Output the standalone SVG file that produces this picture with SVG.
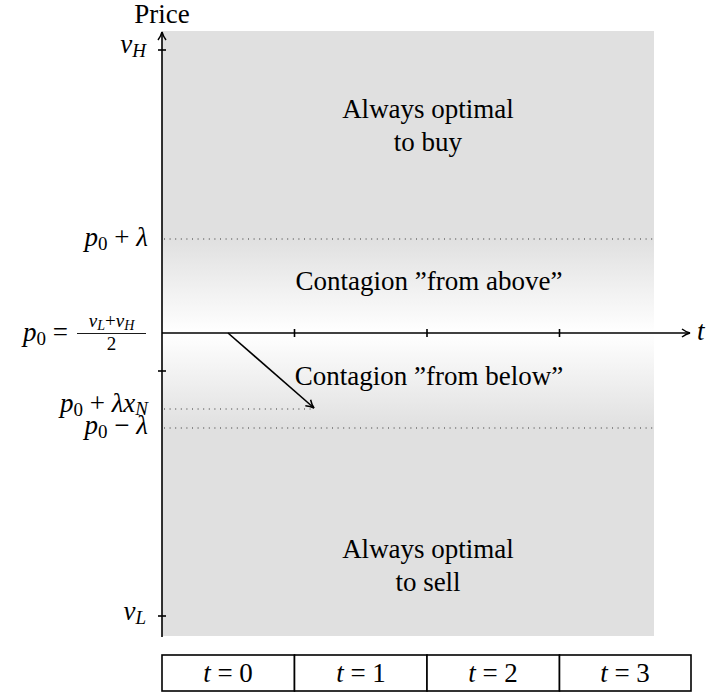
<svg xmlns="http://www.w3.org/2000/svg" width="710" height="696" viewBox="0 0 710 696">
<defs>
<linearGradient id="gTop" x1="0" y1="0" x2="0" y2="1">
<stop offset="0" stop-color="#e0e0e0"/>
<stop offset="1" stop-color="#ffffff"/>
</linearGradient>
<linearGradient id="gBot" x1="0" y1="0" x2="0" y2="1">
<stop offset="0" stop-color="#ffffff"/>
<stop offset="1" stop-color="#e0e0e0"/>
</linearGradient>
<marker id="ah" viewBox="0 0 10 10" refX="9" refY="5" markerWidth="10" markerHeight="10" markerUnits="userSpaceOnUse" orient="auto">
<path d="M1,1 Q5,4 9,5 Q5,6 1,9" fill="none" stroke="#000" stroke-width="1.5"/>
</marker>
</defs>

<g id="regions">
<rect x="162" y="31" width="492" height="605" fill="#e0e0e0"/>
<rect x="162" y="239" width="492" height="94" fill="url(#gTop)"/>
<rect x="162" y="333" width="492" height="95" fill="url(#gBot)"/>
</g>

<g id="guides" stroke="#333" stroke-width="1" stroke-dasharray="1 4.6" fill="none">
<line x1="164" y1="239" x2="654" y2="239"/>
<line x1="164" y1="409" x2="312" y2="409"/>
<line x1="164" y1="428" x2="654" y2="428"/>
</g>

<g id="connectors" stroke="#000" stroke-width="1.6" fill="none">
<line x1="162" y1="637" x2="162" y2="32" marker-end="url(#ah)"/>
<line x1="162" y1="333" x2="690" y2="333" marker-end="url(#ah)"/>
<line x1="158" y1="50" x2="166" y2="50"/>
<line x1="158" y1="371" x2="166" y2="371"/>
<line x1="158" y1="616" x2="166" y2="616"/>
<line x1="294.5" y1="329" x2="294.5" y2="337"/>
<line x1="427" y1="329" x2="427" y2="337"/>
<line x1="559.5" y1="329" x2="559.5" y2="337"/>
<line x1="228" y1="333" x2="314" y2="408" marker-end="url(#ah)"/>
</g>

<g id="labels">
<text font-family="Liberation Serif" font-size="27" text-anchor="middle" x="162" y="23">Price</text>
<text font-family="Liberation Serif" font-size="27" text-anchor="end" x="146" y="53"><tspan font-style="italic">v</tspan><tspan font-style="italic" font-size="19" dy="4">H</tspan></text>
<text font-family="Liberation Serif" font-size="27" text-anchor="end" x="148" y="246"><tspan font-style="italic">p</tspan><tspan font-size="19" dy="4">0</tspan><tspan dy="-4"> + </tspan><tspan font-style="italic">λ</tspan></text>
<text font-family="Liberation Serif" font-size="27" text-anchor="end" x="68" y="341"><tspan font-style="italic">p</tspan><tspan font-size="19" dy="4">0</tspan><tspan dy="-4"> =</tspan></text>
<text font-family="Liberation Serif" font-size="19" text-anchor="middle" x="111.5" y="327"><tspan font-style="italic">v</tspan><tspan font-style="italic" font-size="14" dy="3">L</tspan><tspan dy="-3">+</tspan><tspan font-style="italic">v</tspan><tspan font-style="italic" font-size="14" dy="3">H</tspan></text>
<line x1="77" y1="333.5" x2="146" y2="333.5" stroke="#000" stroke-width="0.9"/>
<text font-family="Liberation Serif" font-size="19" text-anchor="middle" x="111.5" y="350">2</text>
<text font-family="Liberation Serif" font-size="27" text-anchor="end" x="148" y="412"><tspan font-style="italic">p</tspan><tspan font-size="19" dy="4">0</tspan><tspan dy="-4"> + </tspan><tspan font-style="italic">λx</tspan><tspan font-style="italic" font-size="19" dy="3">N</tspan></text>
<text font-family="Liberation Serif" font-size="27" text-anchor="end" x="148" y="434"><tspan font-style="italic">p</tspan><tspan font-size="19" dy="4">0</tspan><tspan dy="-4"> − </tspan><tspan font-style="italic">λ</tspan></text>
<text font-family="Liberation Serif" font-size="27" text-anchor="end" x="146" y="620"><tspan font-style="italic">v</tspan><tspan font-style="italic" font-size="19" dy="4">L</tspan></text>
<text font-family="Liberation Serif" font-size="27" font-style="italic" x="697" y="340">t</text>
</g>

<g id="node-buy">
<text font-family="Liberation Serif" font-size="27" text-anchor="middle" x="428" y="118">Always optimal</text>
<text font-family="Liberation Serif" font-size="27" text-anchor="middle" x="428" y="151">to buy</text>
</g>
<g id="node-above">
<text font-family="Liberation Serif" font-size="27" text-anchor="middle" x="429" y="290">Contagion ”from above”</text>
</g>
<g id="node-below">
<text font-family="Liberation Serif" font-size="27" text-anchor="middle" x="429" y="385">Contagion ”from below”</text>
</g>
<g id="node-sell">
<text font-family="Liberation Serif" font-size="27" text-anchor="middle" x="428" y="558">Always optimal</text>
<text font-family="Liberation Serif" font-size="27" text-anchor="middle" x="428" y="591">to sell</text>
</g>

<g id="timeline">
<g fill="#fff" stroke="#000" stroke-width="1.6">
<rect x="162" y="655" width="132.5" height="36"/>
<rect x="294.5" y="655" width="132.5" height="36"/>
<rect x="427" y="655" width="132.5" height="36"/>
<rect x="559.5" y="655" width="131.5" height="36"/>
</g>
<text font-family="Liberation Serif" font-size="27" text-anchor="middle" x="228" y="682"><tspan font-style="italic">t</tspan> = 0</text>
<text font-family="Liberation Serif" font-size="27" text-anchor="middle" x="361" y="682"><tspan font-style="italic">t</tspan> = 1</text>
<text font-family="Liberation Serif" font-size="27" text-anchor="middle" x="493" y="682"><tspan font-style="italic">t</tspan> = 2</text>
<text font-family="Liberation Serif" font-size="27" text-anchor="middle" x="625" y="682"><tspan font-style="italic">t</tspan> = 3</text>
</g>
</svg>
